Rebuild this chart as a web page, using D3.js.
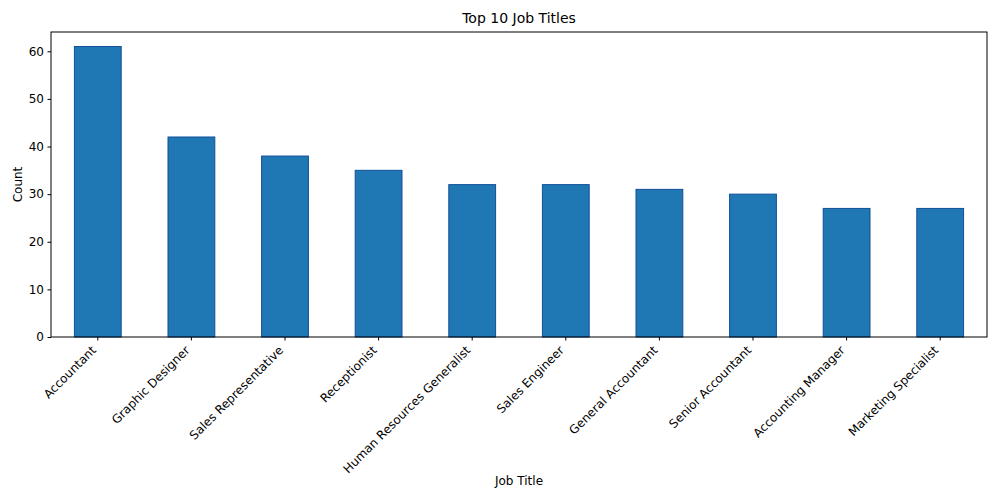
<!DOCTYPE html>
<html><head><meta charset="utf-8">
<script src="https://cdn.jsdelivr.net/npm/d3@7"></script>
<style>body{margin:0;background:#fff}svg{display:block}text{font-family:"DejaVu Sans",sans-serif;fill:#000}</style>
</head><body><svg id="c" width="1000" height="500"></svg>
<script>
const categories = ["Accountant","Graphic Designer","Sales Representative","Receptionist","Human Resources Generalist","Sales Engineer","General Accountant","Senior Accountant","Accounting Manager","Marketing Specialist"];
const counts = [61,42,38,35,32,32,31,30,27,27];
const yTicks = [0,10,20,30,40,50,60];

const svg = d3.select("#c");
const m = {l:51, r:987, t:32, b:337};
const x = d3.scaleBand().domain(categories).range([m.l, m.r]).paddingInner(0.5).paddingOuter(0.25);
const y = d3.scaleLinear().domain([0, d3.max(counts)*1.05]).range([m.b, m.t]);

svg.append("g").selectAll("rect").data(categories).join("rect")
  .attr("x", d => x(d)).attr("width", x.bandwidth())
  .attr("y", (d,i) => y(counts[i])).attr("height", (d,i) => m.b - y(counts[i]))
  .attr("fill", "#1f77b4").attr("stroke", "#114f9a").attr("stroke-width", 1);

const ya = svg.append("g").attr("transform", `translate(${m.l},0)`)
  .call(d3.axisLeft(y).tickValues(yTicks).tickSize(3.5).tickPadding(3.5));
ya.select(".domain").remove();
ya.selectAll("text").style("font-size","12px").style("font-family","DejaVu Sans");

const xa = svg.append("g").attr("transform", `translate(0,${m.b})`)
  .call(d3.axisBottom(x).tickSize(3.5));
xa.select(".domain").remove();
xa.selectAll("text").style("font-size","12px").style("font-family","DejaVu Sans")
  .attr("text-anchor","end").attr("dy",null).attr("y",null)
  .attr("transform","translate(-1,14) rotate(-45)");

svg.append("rect").attr("x", m.l).attr("y", m.t).attr("width", m.r-m.l).attr("height", m.b-m.t)
  .attr("fill","none").attr("stroke","#000").attr("stroke-width",1);

svg.append("text").attr("x",(m.l+m.r)/2).attr("y",23).attr("text-anchor","middle").style("font-size","14px").text("Top 10 Job Titles");
svg.append("text").attr("x",(m.l+m.r)/2).attr("y",485).attr("text-anchor","middle").style("font-size","12px").text("Job Title");
svg.append("text").attr("transform",`translate(22,${(m.t+m.b)/2}) rotate(-90)`).attr("text-anchor","middle").style("font-size","12px").text("Count");
</script></body></html>
